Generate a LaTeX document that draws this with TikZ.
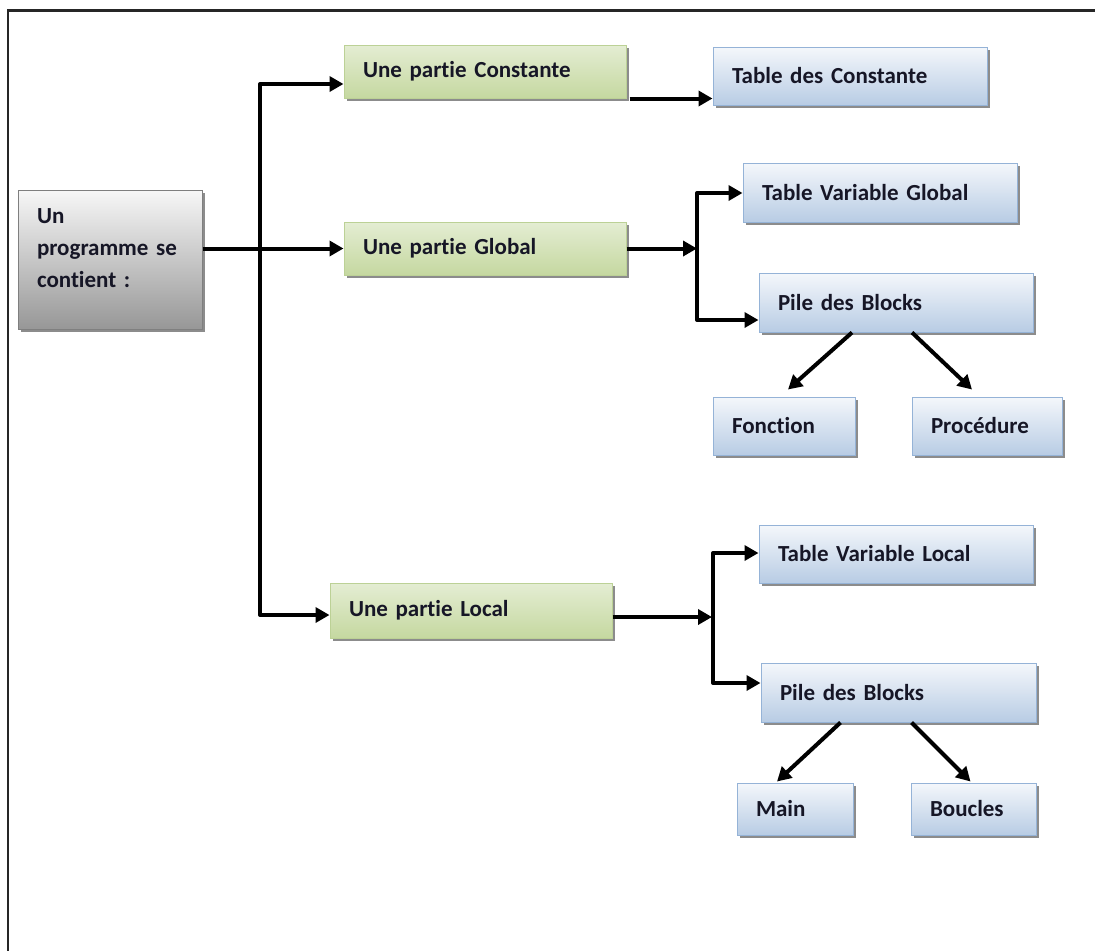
\documentclass[tikz,border=0pt]{standalone}
\usepackage{fontspec}
\setmainfont{Carlito}[RawFeature={-liga}]
\usetikzlibrary{arrows.meta,shadows}

\definecolor{textc}{HTML}{161626}
\definecolor{greentop}{HTML}{E4EDD3}
\definecolor{greenbot}{HTML}{C5D8A0}
\definecolor{greenline}{HTML}{BCD196}
\definecolor{bluetop}{HTML}{F4F7FB}
\definecolor{bluebot}{HTML}{B8CCE4}
\definecolor{blueline}{HTML}{95B3D7}
\definecolor{graytop}{HTML}{F7F7F7}
\definecolor{graybot}{HTML}{979797}
\definecolor{grayline}{HTML}{7F7F7F}
\definecolor{shadowc}{HTML}{8C8C8C}

\begin{document}
\begin{tikzpicture}[x=1pt,y=-1pt,
  basebox/.style={line width=1pt, align=left, inner xsep=19pt, inner ysep=0pt,
    text=textc, font=\bfseries\fontsize{23}{32}\selectfont,
    drop shadow={shadow xshift=3pt, shadow yshift=-3pt, fill=shadowc, opacity=1}},
  greenbox/.style={basebox, draw=greenline, top color=greentop, bottom color=greenbot},
  bluebox/.style={basebox, draw=blueline, top color=bluetop, bottom color=bluebot},
  graybox/.style={basebox, draw=grayline, top color=graytop, bottom color=graybot},
  conn/.style={line width=4pt, black, line join=round,
    -{Triangle[length=14pt,width=15pt]}},
  frameline/.style={black!85}
]
\useasboundingbox (0,0) rectangle (1095,951);

% page frame
\draw[frameline, line width=3pt] (7,10.5) -- (1095,10.5);
\draw[frameline, line width=1.6pt] (8,10.5) -- (8,951);

% root
\node[graybox, minimum width=184pt, minimum height=139pt, text width=146pt]
  (prog) at (110,259.5) {Un\\programme se\\contient :\\[-10pt]\mbox{}};

% the three parts
\node[greenbox, minimum width=282pt, minimum height=53pt, text width=244pt]
  (const) at (485,71.5) {Une partie Constante};
\node[greenbox, minimum width=282pt, minimum height=53pt, text width=244pt]
  (glob) at (485,248.5) {Une partie Global};
\node[greenbox, minimum width=282pt, minimum height=55pt, text width=244pt]
  (loc) at (471,610.5) {Une partie Local};

% tables and stacks
\node[bluebox, minimum width=274pt, minimum height=58pt, text width=236pt]
  (tconst) at (850,76) {Table des Constante};
\node[bluebox, minimum width=274pt, minimum height=59pt, text width=236pt]
  (tvg) at (880,192.5) {Table Variable Global};
\node[bluebox, minimum width=274pt, minimum height=59pt, text width=236pt]
  (pg) at (896,302.5) {Pile des Blocks};
\node[bluebox, minimum width=142pt, minimum height=58pt, text width=104pt]
  (fonc) at (784,426) {Fonction};
\node[bluebox, minimum width=150pt, minimum height=58pt, text width=112pt]
  (proc) at (987,426) {Procédure};
\node[bluebox, minimum width=274pt, minimum height=58pt, text width=236pt]
  (tvl) at (896,554) {Table Variable Local};
\node[bluebox, minimum width=275pt, minimum height=59pt, text width=237pt]
  (pl) at (898.5,692.5) {Pile des Blocks};
\node[bluebox, minimum width=116pt, minimum height=52pt, text width=78pt]
  (main) at (795,809) {Main};
\node[bluebox, minimum width=125pt, minimum height=52pt, text width=87pt]
  (bouc) at (973.5,809) {Boucles};

% branching points
\coordinate (bt) at (260,84);
\coordinate (bb) at (260,615);
\coordinate (jgt) at (697,193);
\coordinate (jgb) at (697,320);
\coordinate (jl) at (712,617);
\coordinate (jlt) at (713,553);
\coordinate (jlb) at (713,683);

% root to the parts
\draw[conn] (prog.east |- glob.west) -- (glob.west);
\draw[conn] (bb) -- (bt) -- (bt -| const.west);
\draw[conn] (bt) -- (bb) -- (bb -| loc.west);

% constant part
\draw[conn] ([xshift=3pt]const.south east) -- (const.south east -| tconst.west);

% global part
\draw[conn] (glob.east) -- (glob.east -| jgt);
\draw[conn] (jgb) -- (jgt) -- (jgt -| tvg.west);
\draw[conn] (jgt) -- (jgb) -- (jgb -| pg.west);
\draw[conn] ([xshift=-44pt]pg.south) -- ([xshift=4pt,yshift=7pt]fonc.north);
\draw[conn] ([xshift=16pt]pg.south) -- ([xshift=-15pt,yshift=7pt]proc.north);

% local part
\draw[conn] (loc.east |- jl) -- (jl);
\draw[conn] (jlb) -- (jlt) -- (jlt -| tvl.west);
\draw[conn] (jlt) -- (jlb) -- (jlb -| pl.west);
\draw[conn] ([xshift=-58pt]pl.south) -- ([xshift=-18pt,yshift=1pt]main.north);
\draw[conn] ([xshift=13pt]pl.south) -- ([xshift=-3pt,yshift=1pt]bouc.north);
\end{tikzpicture}
\end{document}
